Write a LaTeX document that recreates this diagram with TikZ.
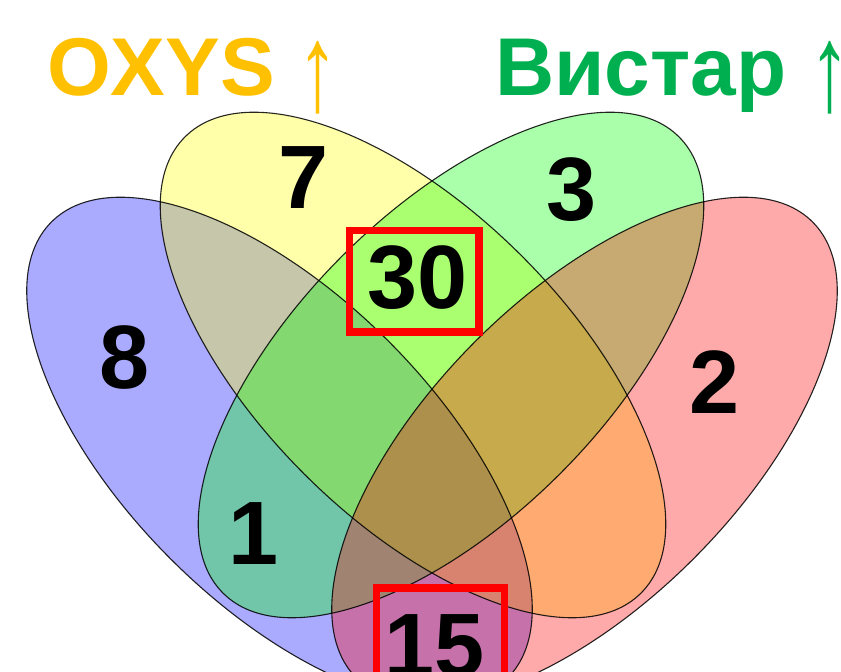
\documentclass[tikz,border=0pt]{standalone}
\usepackage{fontspec}
\setmainfont{Liberation Sans}
\definecolor{vblue}{RGB}{0,0,255}
\definecolor{vyellow}{RGB}{255,255,0}
\definecolor{vgreen}{RGB}{0,255,0}
\definecolor{vred}{RGB}{255,0,0}
\definecolor{oxys}{RGB}{255,192,0}
\definecolor{wist}{RGB}{0,176,80}
\newcommand{\uparr}{\raisebox{-15pt}{\scalebox{1}[1.5]{\mdseries ↑}}}
\begin{document}
\begin{tikzpicture}[x=1pt,y=1pt,
  vfill/.style={fill=#1, fill opacity=1/3},
  vline/.style={draw=black, draw opacity=0.85, line width=1.1pt},
  num/.style={font=\fontsize{90}{90}\selectfont\bfseries, inner sep=0pt},
  ttl/.style={font=\fontsize{82}{90}\selectfont\bfseries, inner sep=0pt, anchor=base west},
  hl/.style={draw=red, line width=7.4pt}
]
\useasboundingbox (0,0) rectangle (841,672);
\begin{scope}
\clip (0,0) rectangle (841,672);
% fills
\path[vfill=vblue, rotate around={-45:(279.5,222)}] (279.5,222) ellipse (322.5pt and 154pt);
\path[vfill=vyellow, rotate around={-45:(413,307)}] (413,307) ellipse (322.5pt and 154pt);
\path[vfill=vgreen, rotate around={45:(451,307)}] (451,307) ellipse (322.5pt and 154pt);
\path[vfill=vred, rotate around={45:(584.5,222)}] (584.5,222) ellipse (322.5pt and 154pt);
% outlines
\path[vline, rotate around={-45:(279.5,222)}] (279.5,222) ellipse (322.5pt and 154pt);
\path[vline, rotate around={-45:(413,307)}] (413,307) ellipse (322.5pt and 154pt);
\path[vline, rotate around={45:(451,307)}] (451,307) ellipse (322.5pt and 154pt);
\path[vline, rotate around={45:(584.5,222)}] (584.5,222) ellipse (322.5pt and 154pt);
% highlight boxes
\draw[hl] (349.7,441.7) rectangle (478.9,340);
\draw[hl] (376.4,84) rectangle (504.3,-24);
% numbers
\node[num] (n8) at (125,314) {8};
\node[num] (n7) at (304,494) {7};
\node[num] (n30) at (418,394) {30};
\node[num] (n3) at (572,482) {3};
\node[num] (n2) at (715,290) {2};
\node[num] (n1) at (254,138) {1};
\node[num] (n15) at (434.5,26.5) {15};
\end{scope}
% titles
\node[ttl, text=oxys] (t1) at (47,576) {OXYS \uparr};
\node[ttl, text=wist] (t2) at (495,576) {Вистар \uparr};
\end{tikzpicture}
\end{document}
